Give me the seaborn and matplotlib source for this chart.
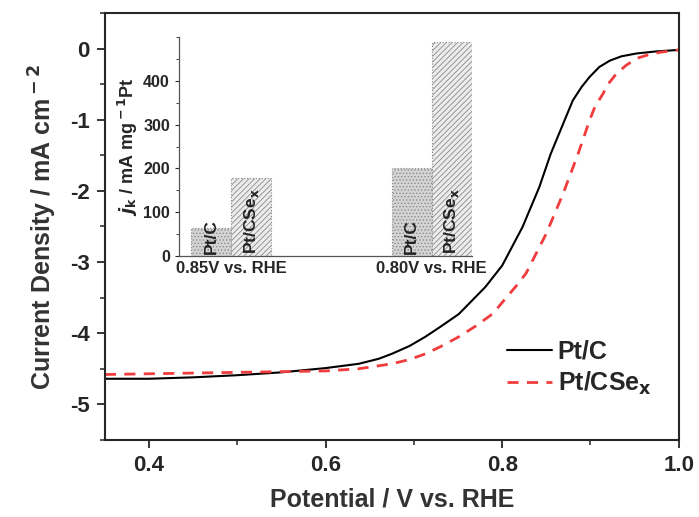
import pandas as pd
import seaborn as sns
import matplotlib.pyplot as plt
from matplotlib.ticker import MultipleLocator

# LSV curves
potential_ptc = [0.35, 0.40, 0.45, 0.50, 0.55, 0.60, 0.6375, 0.66, 0.675, 0.695, 0.713, 0.73,
                 0.751, 0.781, 0.800, 0.823, 0.842, 0.855, 0.869, 0.880, 0.890, 0.899, 0.910,
                 0.922, 0.935, 0.952, 0.975, 1.0]
current_ptc = [-4.64, -4.64, -4.62, -4.59, -4.55, -4.49, -4.43, -4.36, -4.29, -4.18, -4.05, -3.91,
               -3.73, -3.35, -3.05, -2.51, -1.95, -1.48, -1.06, -0.73, -0.54, -0.40, -0.26,
               -0.17, -0.11, -0.07, -0.04, -0.02]

potential_ptcse = [0.35, 0.40, 0.50, 0.60, 0.6375, 0.675, 0.695, 0.713, 0.73, 0.751, 0.77,
                   0.789, 0.815, 0.827, 0.850, 0.869, 0.886, 0.899, 0.905, 0.914, 0.920,
                   0.929, 0.940, 0.952, 0.965, 0.98, 1.0]
current_ptcse = [-4.58, -4.57, -4.55, -4.53, -4.50, -4.43, -4.37, -4.29, -4.19, -4.05, -3.90,
                 -3.73, -3.35, -3.16, -2.60, -2.04, -1.48, -1.01, -0.82, -0.64, -0.50,
                 -0.36, -0.24, -0.14, -0.09, -0.05, -0.02]

# inset: kinetic current densities
conditions = ["0.85V vs. RHE", "0.80V vs. RHE"]
jk_ptc = [64, 200]
jk_ptcse = [177, 490]

sns.set_style("ticks")
plt.rcParams['font.family'] = ['Liberation Sans', 'DejaVu Sans']
plt.rcParams['font.weight'] = 'bold'
plt.rcParams['axes.unicode_minus'] = False
plt.rcParams['hatch.color'] = '#9a9a9a'
plt.rcParams['hatch.linewidth'] = 0.6

fig = plt.figure(figsize=(6.99, 5.17), dpi=100)
ax = fig.add_axes([0.150, 0.149, 0.821, 0.826])

sns.lineplot(x=potential_ptc, y=current_ptc, ax=ax, color='black', lw=1.5, label='Pt/C')
sns.lineplot(x=potential_ptcse, y=current_ptcse, ax=ax, color='#f03c3c', lw=2.0,
             linestyle=(0, (4, 3)), label=r'Pt/CSe$_{\bf x}$')

ax.set_xlim(0.35, 1.0)
ax.set_ylim(-5.5, 0.5)
ax.xaxis.set_major_locator(MultipleLocator(0.2))
ax.xaxis.set_minor_locator(MultipleLocator(0.1))
ax.yaxis.set_major_locator(MultipleLocator(1))
ax.yaxis.set_minor_locator(MultipleLocator(0.5))
ax.tick_params(which='major', direction='out', length=6, width=1.3, labelsize=16, pad=5)
ax.tick_params(which='minor', direction='out', length=3.5, width=1.1)
for lbl in ax.get_xticklabels() + ax.get_yticklabels():
    lbl.set_fontweight('bold')
for s in ax.spines.values():
    s.set_linewidth(1.5)
    s.set_visible(True)
ax.set_xlabel("Potential / V vs. RHE", fontsize=18, fontweight='bold', color='#333333',
              labelpad=8)
ax.set_ylabel(r"Current Density / mA cm$^{\bf -2}$", fontsize=18, fontweight='bold',
              color='#333333', labelpad=8)
ax.legend(loc='upper left', bbox_to_anchor=(0.70, 0.235), frameon=False, fontsize=18,
          handlelength=1.8, handletextpad=0.25, labelspacing=0.25, borderpad=0,
          borderaxespad=0)

# inset bar chart
ax_in = fig.add_axes([0.256, 0.505, 0.419, 0.423])
df = pd.DataFrame({
    'condition': conditions * 2,
    'jk': jk_ptc + jk_ptcse,
    'catalyst': ['Pt/C'] * 2 + ['Pt/CSex'] * 2,
})
sns.barplot(data=df, x='condition', y='jk', hue='catalyst', ax=ax_in, width=0.4,
            palette=['#d4d4d4', '#ececec'], legend=False, saturation=1)

names = ['Pt/C'] * 2 + [r'Pt/CSe$_{\bf x}$'] * 2
for i, bar in enumerate(ax_in.patches[:4]):
    bar.set_edgecolor('#8a8a8a')
    bar.set_linewidth(0.8)
    bar.set_linestyle(':')
    bar.set_hatch('.....' if i < 2 else '//////')
    ax_in.text(bar.get_x() + bar.get_width() / 2, 4, names[i], rotation=90,
               ha='center', va='bottom', fontsize=12.5, fontweight='bold', color='#222222')

ax_in.set_xlim(-0.26, 1.2)
ax_in.set_ylim(0, 500)
ax_in.set_yticks([0, 100, 200, 300, 400])
ax_in.yaxis.set_minor_locator(MultipleLocator(50))
ax_in.tick_params(axis='y', which='major', direction='out', length=3, width=0.8, labelsize=11.5)
ax_in.tick_params(axis='y', which='minor', direction='out', length=2, width=0.6)
ax_in.tick_params(axis='x', length=0, labelsize=12, pad=4)
for lbl in ax_in.get_xticklabels() + ax_in.get_yticklabels():
    lbl.set_fontweight('bold')
ax_in.set_xlabel('')
ax_in.set_ylabel(r"$\it{j}_{\bf k}$ / mA mg$^{\bf -1}$Pt", fontsize=13, fontweight='bold',
                 labelpad=2)
sns.despine(ax=ax_in)
ax_in.spines['left'].set_color('#555555')
ax_in.spines['left'].set_linewidth(0.9)
ax_in.spines['bottom'].set_color('#555555')
ax_in.spines['bottom'].set_linewidth(0.9)
ax_in.patch.set_alpha(0)

fig.savefig('out.png', dpi=100)
